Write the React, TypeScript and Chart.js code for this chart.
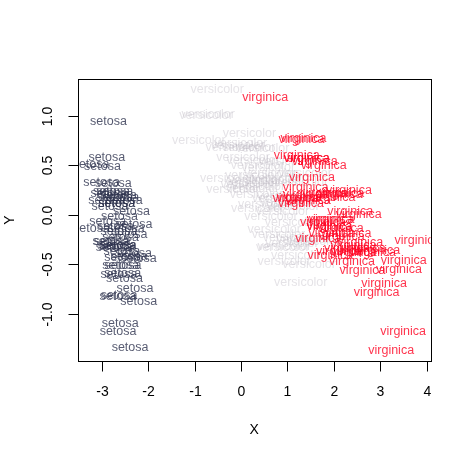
import React, { useEffect, useRef } from "react";
import { Chart, registerables } from "chart.js";

Chart.register(...registerables);

const setosaX = [-2.684,-2.714,-2.889,-2.745,-2.729,-2.281,-2.821,-2.626,-2.886,-2.673,-2.507,-2.613,-2.787,-3.225,-2.644,-2.386,-2.623,-2.648,-2.200,-2.588,-2.310,-2.544,-3.216,-2.303,-2.356,-2.508,-2.469,-2.562,-2.640,-2.633,-2.588,-2.410,-2.648,-2.597,-2.673,-2.867,-2.625,-2.800,-2.980,-2.590,-2.770,-2.850,-2.998,-2.406,-2.209,-2.715,-2.538,-2.840,-2.543,-2.703];
const setosaY = [-0.319,0.177,0.145,0.318,-0.327,-0.741,0.089,-0.163,0.578,0.114,-0.645,-0.015,0.235,0.511,-1.179,-1.338,-0.811,-0.312,-0.874,-0.514,-0.391,-0.433,-0.133,-0.099,0.037,0.146,-0.131,-0.368,-0.312,0.197,0.180,-0.418,-0.820,-1.100,0.114,-0.069,-0.601,-0.268,0.487,-0.229,-0.264,0.941,0.334,-0.195,-0.442,0.243,-0.510,0.220,-0.586,-0.115];

const versicolorX = [1.285,0.932,1.464,0.181,1.087,0.640,1.095,-0.751,1.043,-0.010,-0.511,0.511,0.262,0.984,-0.174,0.928,0.660,0.236,0.944,0.045,1.116,0.358,1.298,0.921,0.715,0.900,1.332,1.558,0.813,-0.306,-0.068,-0.190,0.136,1.380,0.588,0.807,1.220,0.815,0.246,0.166,0.464,0.890,0.230,-0.705,0.357,0.332,0.376,0.643,-0.907,0.300];
const versicolorY = [-0.685,-0.318,-0.504,0.826,-0.075,0.418,-0.284,1.005,-0.229,0.724,1.265,0.104,0.550,0.125,0.255,-0.467,0.353,0.333,0.543,0.584,0.084,0.069,0.328,0.183,-0.149,-0.329,-0.244,-0.267,0.163,0.368,0.705,0.680,0.314,0.421,0.484,-0.194,-0.408,0.372,0.269,0.682,0.670,0.034,0.404,1.012,0.505,0.212,0.293,-0.017,0.756,0.349];

const virginicaX = [2.531,1.415,2.617,1.971,2.350,3.397,0.521,2.933,2.321,2.917,1.662,1.804,2.165,1.345,1.585,1.905,1.949,3.487,3.795,1.300,2.428,1.199,3.500,1.389,2.276,2.614,1.258,1.291,2.123,2.388,2.841,3.230,2.159,1.444,1.780,3.077,2.145,1.905,1.169,2.108,2.314,1.922,1.415,2.563,2.419,1.944,1.527,1.764,1.901,1.390];
const virginicaY = [0.010,0.575,-0.343,0.180,0.040,-0.551,1.193,-0.356,0.244,-0.783,-0.242,0.216,-0.216,0.776,0.540,-0.119,-0.041,-1.175,-0.257,0.761,-0.378,0.606,-0.461,0.204,-0.333,-0.558,0.180,0.117,0.210,-0.465,-0.375,-1.374,0.217,0.143,0.500,-0.688,-0.140,-0.049,0.165,-0.372,-0.184,-0.409,0.575,-0.278,-0.304,-0.188,0.375,-0.079,-0.117,0.283];

const seriesNames = ["setosa", "versicolor", "virginica"];
const seriesColors = ["rgba(45,50,78,0.8)", "rgba(190,184,196,0.4)", "rgba(255,0,32,0.8)"];
const xTicks = [-3, -2, -1, 0, 1, 2, 3, 4];
const yTicks = [-1.0, -0.5, 0.0, 0.5, 1.0];
const xTitle = "X";
const yTitle = "Y";

const FONT = "'Liberation Sans', Arial, Helvetica, sans-serif";

const textLabelPlugin = {
  id: "textLabels",
  afterDatasetsDraw(chart: any) {
    const ctx = chart.ctx;
    const xs = chart.scales.x;
    const ys = chart.scales.y;
    const ca = chart.chartArea;
    ctx.save();
    ctx.beginPath();
    ctx.rect(ca.left, ca.top, ca.right - ca.left, ca.bottom - ca.top);
    ctx.clip();
    ctx.font = `12.5px ${FONT}`;
    ctx.textAlign = "center";
    ctx.textBaseline = "middle";
    chart.data.datasets.forEach((ds: any, i: number) => {
      ctx.fillStyle = seriesColors[i];
      ds.data.forEach((p: any) => {
        ctx.fillText(ds.label, xs.getPixelForValue(p.x), ys.getPixelForValue(p.y) + 0.5);
      });
    });
    ctx.restore();
  },
  afterDraw(chart: any) {
    const ctx = chart.ctx;
    const xs = chart.scales.x;
    const ys = chart.scales.y;
    const ca = chart.chartArea;
    ctx.save();
    ctx.strokeStyle = "#000";
    ctx.lineWidth = 1;
    const L = Math.round(ca.left) + 0.5;
    const R = Math.round(ca.right) + 0.5;
    const T = Math.round(ca.top) + 0.5;
    const B = Math.round(ca.bottom) + 0.5;
    ctx.strokeRect(L, T, R - L, B - T);
    ctx.fillStyle = "#000";
    ctx.font = `14px ${FONT}`;
    // x ticks
    ctx.textAlign = "center";
    ctx.textBaseline = "middle";
    xTicks.forEach((v) => {
      const px = Math.round(xs.getPixelForValue(v)) + 0.5;
      ctx.beginPath();
      ctx.moveTo(px, B);
      ctx.lineTo(px, B + 10);
      ctx.stroke();
      ctx.fillText(String(v), px, B + 31);
    });
    // y ticks
    yTicks.forEach((v) => {
      const py = Math.round(ys.getPixelForValue(v)) + 0.5;
      ctx.beginPath();
      ctx.moveTo(L, py);
      ctx.lineTo(L - 10, py);
      ctx.stroke();
      ctx.save();
      ctx.translate(L - 30, py);
      ctx.rotate(-Math.PI / 2);
      ctx.fillText(v.toFixed(1), 0, 0);
      ctx.restore();
    });
    // titles
    ctx.fillText(xTitle, (ca.left + ca.right) / 2, B + 69);
    ctx.save();
    ctx.translate(L - 68, (ca.top + ca.bottom) / 2);
    ctx.rotate(-Math.PI / 2);
    ctx.fillText(yTitle, 0, 0);
    ctx.restore();
    ctx.restore();
  },
};

export default function App() {
  const ref = useRef<HTMLCanvasElement | null>(null);
  useEffect(() => {
    document.body.style.margin = "0";
    document.body.style.background = "#fff";
    const canvas = ref.current!;
    const mk = (xs: number[], ys: number[]) => xs.map((x, i) => ({ x, y: ys[i] }));
    const chart = new Chart(canvas, {
      type: "scatter",
      data: {
        datasets: [
          { label: seriesNames[0], data: mk(setosaX, setosaY), pointRadius: 0 },
          { label: seriesNames[1], data: mk(versicolorX, versicolorY), pointRadius: 0 },
          { label: seriesNames[2], data: mk(virginicaX, virginicaY), pointRadius: 0 },
        ],
      },
      options: {
        animation: false,
        responsive: false,
        devicePixelRatio: 1,
        layout: { padding: { left: 78, right: 40.5, top: 79, bottom: 99 } },
        plugins: { legend: { display: false }, tooltip: { enabled: false } },
        scales: {
          x: { type: "linear", min: -3.506, max: 4.076, display: false },
          y: { type: "linear", min: -1.48, max: 1.371, display: false },
        },
      },
      plugins: [textLabelPlugin],
    } as any);
    return () => chart.destroy();
  }, []);
  return (
    <div style={{ position: "absolute", left: 0, top: 0, width: 471, height: 460, background: "#fff" }}>
      <canvas ref={ref} width={471} height={460} />
    </div>
  );
}
